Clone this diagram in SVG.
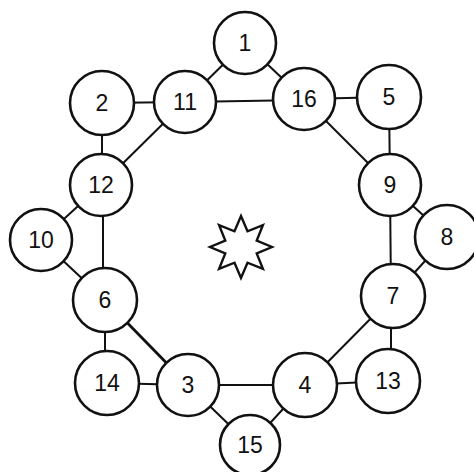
<svg xmlns="http://www.w3.org/2000/svg" width="474" height="472" viewBox="0 0 474 472">
<style>
.n circle{fill:#fff;stroke:#111;stroke-width:2.6}
.n text{font-family:"Liberation Sans",Arial,sans-serif;font-size:23px;fill:#111;text-anchor:middle;dominant-baseline:central}
#edges line{stroke:#111;stroke-width:2}
</style>
<rect width="474" height="472" fill="#fff"/>
<g id="edges">
<line x1="245" y1="43" x2="185" y2="102"/>
<line x1="245" y1="43" x2="304" y2="99"/>
<line x1="185" y1="102" x2="304" y2="100"/>
<line x1="102" y1="103" x2="185" y2="102"/>
<line x1="102" y1="103" x2="102" y2="185"/>
<line x1="185" y1="102" x2="101" y2="185"/>
<line x1="304" y1="99" x2="389" y2="97"/>
<line x1="304" y1="99" x2="390" y2="185"/>
<line x1="389" y1="97" x2="390" y2="185"/>
<line x1="390" y1="185" x2="447" y2="237"/>
<line x1="390" y1="185" x2="391" y2="296"/>
<line x1="447" y1="237" x2="393" y2="296"/>
<line x1="391" y1="296" x2="391" y2="381"/>
<line x1="393" y1="296" x2="305" y2="385"/>
<line x1="388" y1="381" x2="305" y2="385"/>
<line x1="305" y1="385" x2="188" y2="385"/>
<line x1="305" y1="385" x2="250" y2="445"/>
<line x1="188" y1="385" x2="250" y2="445"/>
<line x1="188" y1="385" x2="107" y2="383"/>
<line x1="188" y1="385" x2="105" y2="300" style="stroke-width:2.8"/>
<line x1="105" y1="300" x2="105" y2="383"/>
<line x1="105" y1="300" x2="41" y2="240"/>
<line x1="103" y1="185" x2="103" y2="300"/>
<line x1="101" y1="185" x2="41" y2="240"/>
</g>
<g id="star"><polygon points="241,216 247.5,231.3 262.9,225.1 256.7,240.5 272,247 256.7,253.5 262.9,268.9 247.5,262.7 241,278 234.5,262.7 219.1,268.9 225.3,253.5 210,247 225.3,240.5 219.1,225.1 234.5,231.3" fill="#fff" stroke="#111" stroke-width="2.4" stroke-linejoin="miter"/></g>
<g id="n1" class="n"><circle cx="245" cy="43" r="31"/><text x="245" y="43">1</text></g>
<g id="n11" class="n"><circle cx="185" cy="102" r="31"/><text x="185" y="102">11</text></g>
<g id="n16" class="n"><circle cx="304" cy="99" r="31"/><text x="304" y="99">16</text></g>
<g id="n5" class="n"><circle cx="389" cy="97" r="32"/><text x="389" y="97">5</text></g>
<g id="n2" class="n"><circle cx="102" cy="103" r="32"/><text x="102" y="103">2</text></g>
<g id="n12" class="n"><circle cx="101" cy="185" r="31"/><text x="101" y="185">12</text></g>
<g id="n9" class="n"><circle cx="390" cy="185" r="31"/><text x="390" y="185">9</text></g>
<g id="n8" class="n"><circle cx="447" cy="237" r="32"/><text x="447" y="237">8</text></g>
<g id="n10" class="n"><circle cx="41" cy="240" r="31"/><text x="41" y="240">10</text></g>
<g id="n6" class="n"><circle cx="105" cy="300" r="32"/><text x="105" y="300">6</text></g>
<g id="n7" class="n"><circle cx="393" cy="296" r="32"/><text x="393" y="296">7</text></g>
<g id="n14" class="n"><circle cx="107" cy="383" r="32"/><text x="107" y="383">14</text></g>
<g id="n3" class="n"><circle cx="188" cy="385" r="31"/><text x="188" y="385">3</text></g>
<g id="n4" class="n"><circle cx="305" cy="385" r="32"/><text x="305" y="385">4</text></g>
<g id="n13" class="n"><circle cx="388" cy="381" r="32"/><text x="388" y="381">13</text></g>
<g id="n15" class="n"><circle cx="250" cy="445" r="30"/><text x="250" y="445">15</text></g>
</svg>
